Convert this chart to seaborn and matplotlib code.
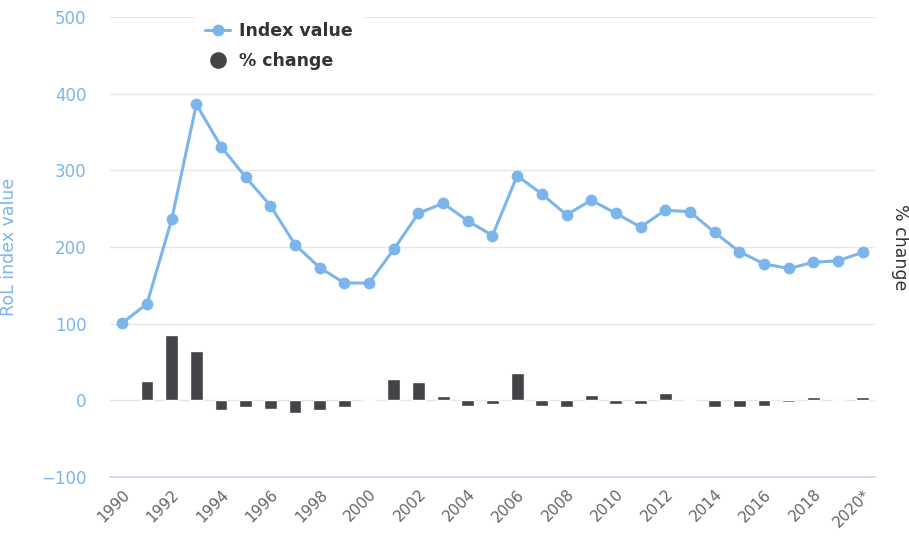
import matplotlib
matplotlib.use("Agg")
import matplotlib.pyplot as plt
from matplotlib.lines import Line2D
import seaborn as sns
import pandas as pd

years = [str(y) for y in range(1990, 2021)]
index_value = [101, 126, 236, 386, 331, 291, 254, 203, 173, 153, 153, 197, 244, 257,
               234, 215, 293, 269, 242, 261, 244, 226, 248, 246, 219, 194, 178, 172,
               180, 182, 193]
pct_change = [float('nan'), 25, 85, 65, -13, -9, -11, -17, -13, -9, 0, 28, 24, 6,
              -7, -5, 36, -7, -9, 7, -5, -5, 10, -1, -9, -9, -7, -2, 5, 1, 5]
tick_years = years[::2]
tick_labels = tick_years[:-1] + ["2020*"]
y_ticks = [-100, 0, 100, 200, 300, 400, 500]

LINE_C = "#7cb5ec"
BAR_C = "#434348"

sns.set_theme(style="white")
plt.rcParams['font.family'] = ['DejaVu Sans']

df = pd.DataFrame({"year": years, "index": index_value, "pct": pct_change})
df["pos"] = range(len(df))

fig = plt.figure(figsize=(9.09, 5.38), dpi=100)
ax = fig.add_axes([110 / 909, 1 - 477 / 538, 765 / 909, 460 / 538])
axr = ax.twinx()

# bars on the secondary axis
sns.barplot(data=df, x="year", y="pct", color=BAR_C, saturation=1, width=0.52,
            edgecolor="white", linewidth=1, ax=axr, zorder=3)
axr.set_ylim(-100, 500)
axr.set_yticks(y_ticks)
axr.tick_params(axis="y", labelright=False, length=0)
axr.grid(axis="y", color="#e6e6e6", linewidth=1)
axr.set_axisbelow(True)
for s in axr.spines.values():
    s.set_visible(False)
axr.set_ylabel("% change", rotation=270, color="#333333", fontsize=12.5,
               ha="center", va="center")
axr.yaxis.set_label_coords((900 - 110) / 765, 0.5)

# line on the primary axis
sns.lineplot(data=df, x="pos", y="index", color=LINE_C, marker="o", markersize=8.5,
             markeredgewidth=0, linewidth=2.2, ax=ax, zorder=4)
ax.set_zorder(axr.get_zorder() + 1)
ax.patch.set_visible(False)
ax.set_ylim(-100, 500)
ax.set_yticks(y_ticks)
ax.set_xlim(-0.5, len(years) - 0.5)
ax.set_xticks(range(0, len(years), 2))
ax.set_xticklabels(tick_labels, rotation=45, ha="right", rotation_mode="anchor",
                   color="#666666", fontsize=11)
ax.tick_params(axis="x", length=0, pad=7)
ax.tick_params(axis="y", length=0, labelcolor=LINE_C, labelsize=12, pad=17)
ax.grid(False)
for k, s in ax.spines.items():
    s.set_visible(k == "bottom")
ax.spines["bottom"].set_color("#ccd6eb")
ax.spines["bottom"].set_linewidth(1.2)
ax.set_xlabel("")
ax.set_ylabel("RoL index value", color=LINE_C, fontsize=12.5)
ax.yaxis.set_label_coords((18 - 110) / 765, 0.5)

handles = [
    Line2D([0], [0], color=LINE_C, marker="o", markersize=8.5, markeredgewidth=0, lw=2.2),
    Line2D([0], [0], color=BAR_C, marker="o", markersize=12, markeredgewidth=0, lw=0),
]
leg = ax.legend(handles, ["Index value", "% change"], loc="upper left",
                bbox_to_anchor=(186 / 909, 1 - 3 / 538), bbox_transform=fig.transFigure,
                frameon=True, facecolor="white", edgecolor="white", framealpha=1,
                prop={"weight": "bold", "size": 12.5}, handlelength=1.45,
                handletextpad=0.5, labelspacing=0.7, borderpad=0.6)
for t in leg.get_texts():
    t.set_color("#333333")

fig.savefig("out.png", dpi=100, facecolor="white")
